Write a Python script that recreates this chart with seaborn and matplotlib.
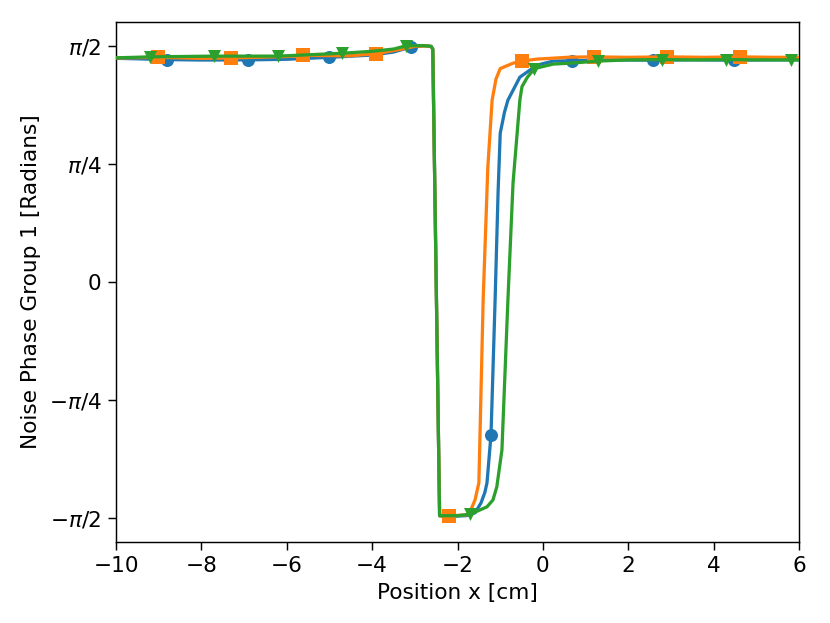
import numpy as np
import matplotlib
matplotlib.use("Agg")
import matplotlib.pyplot as plt
import seaborn as sns

# line data (x in cm, phase in radians)
blue_x = [-10.2, -9.5, -8.8, -8.0, -6.9, -6.0, -5.0, -4.0, -3.5, -3.1, -2.8, -2.62, -2.58,
          -2.42, -2.2, -1.8, -1.59, -1.45, -1.36, -1.31, -1.216, -1.12, -1.05, -1.0, -0.9,
          -0.82, -0.54, -0.14, 0.24, 0.68, 1.5, 2.58, 3.5, 4.48, 5.3, 6.2]
blue_y = [1.49, 1.485, 1.48, 1.477, 1.478, 1.482, 1.495, 1.51, 1.53, 1.563, 1.572, 1.568, 1.55,
          -1.555, -1.56, -1.555, -1.536, -1.47, -1.40, -1.336, -1.017, -0.12, 0.60, 0.99, 1.13,
          1.21, 1.363, 1.443, 1.47, 1.472, 1.478, 1.476, 1.478, 1.476, 1.478, 1.478]

orange_x = [-10.2, -9.0, -8.0, -7.3, -6.0, -5.6, -4.5, -3.9, -3.3, -3.0, -2.7, -2.62, -2.58,
            -2.42, -2.2, -1.8, -1.71, -1.59, -1.5, -1.40, -1.29, -1.19, -1.1, -1.0, -0.7,
            -0.5, -0.14, 0.63, 1.2, 2.0, 2.9, 3.8, 4.6, 5.4, 6.2]
orange_y = [1.49, 1.495, 1.488, 1.491, 1.5, 1.508, 1.505, 1.52, 1.55, 1.568, 1.571, 1.566, 1.55,
            -1.555, -1.556, -1.55, -1.53, -1.45, -1.336, -0.12, 0.765, 1.21, 1.35, 1.42, 1.456,
            1.47, 1.483, 1.496, 1.498, 1.495, 1.498, 1.495, 1.498, 1.495, 1.495]

green_x = [-10.2, -9.2, -8.0, -7.7, -6.2, -4.7, -4.0, -3.5, -3.2, -2.8, -2.62, -2.58,
           -2.42, -2.0, -1.7, -1.31, -1.17, -1.08, -0.96, -0.82, -0.70, -0.54, -0.49, -0.37,
           -0.2, 0.24, 0.63, 1.3, 2.0, 2.8, 3.6, 4.3, 5.0, 5.8, 6.2]
green_y = [1.49, 1.498, 1.502, 1.503, 1.503, 1.522, 1.535, 1.55, 1.572, 1.573, 1.568, 1.55,
           -1.555, -1.555, -1.545, -1.496, -1.45, -1.363, -1.117, -0.12, 0.658, 1.21, 1.30, 1.36,
           1.42, 1.45, 1.456, 1.47, 1.478, 1.48, 1.478, 1.48, 1.478, 1.478, 1.478]

# marker positions
blue_mx = [-8.8, -6.9, -5.0, -3.1, -1.216, 0.68, 2.58, 4.48]
blue_my = [1.48, 1.478, 1.495, 1.563, -1.017, 1.472, 1.476, 1.476]
orange_mx = [-9.02, -7.31, -5.61, -3.91, -2.2, -0.5, 1.2, 2.9, 4.61]
orange_my = [1.495, 1.491, 1.508, 1.52, -1.556, 1.47, 1.498, 1.498, 1.498]
green_mx = [-9.2, -7.7, -6.2, -4.7, -3.2, -1.7, -0.2, 1.3, 2.8, 4.3, 5.8]
green_my = [1.498, 1.503, 1.503, 1.522, 1.572, -1.545, 1.42, 1.47, 1.48, 1.48, 1.478]

series = [
    (blue_x, blue_y, blue_mx, blue_my, "C0", "o"),
    (orange_x, orange_y, orange_mx, orange_my, "C1", "s"),
    (green_x, green_y, green_mx, green_my, "C2", "v"),
]

plt.rcParams["font.size"] = 12

fig = plt.figure(figsize=(830 / 130, 623 / 130), dpi=130)
ax = fig.add_axes([0.1398, 0.1305, 0.9627 - 0.1398, 0.9642 - 0.1305])

for i, (x, y, mx, my, c, m) in enumerate(series):
    sns.lineplot(x=x, y=y, ax=ax, color=c, linewidth=1.8, estimator=None, zorder=2 + i)
    sns.scatterplot(x=mx, y=my, ax=ax, color=c, marker=m, s=52, linewidth=0, zorder=2.5 + i)

ax.set_xlim(-10, 6)
ax.set_ylim(-1.728, 1.728)
ax.set_yticks([np.pi / 2, np.pi / 4, 0, -np.pi / 4, -np.pi / 2])
ax.set_yticklabels([r"$\pi/2$", r"$\pi/4$", "0", r"$-\pi/4$", r"$-\pi/2$"])
ax.tick_params(length=4.5)
ax.set_xlabel("Position x [cm]")
ax.set_ylabel("Noise Phase Group 1 [Radians]")

fig.savefig("out.png", dpi=130)
